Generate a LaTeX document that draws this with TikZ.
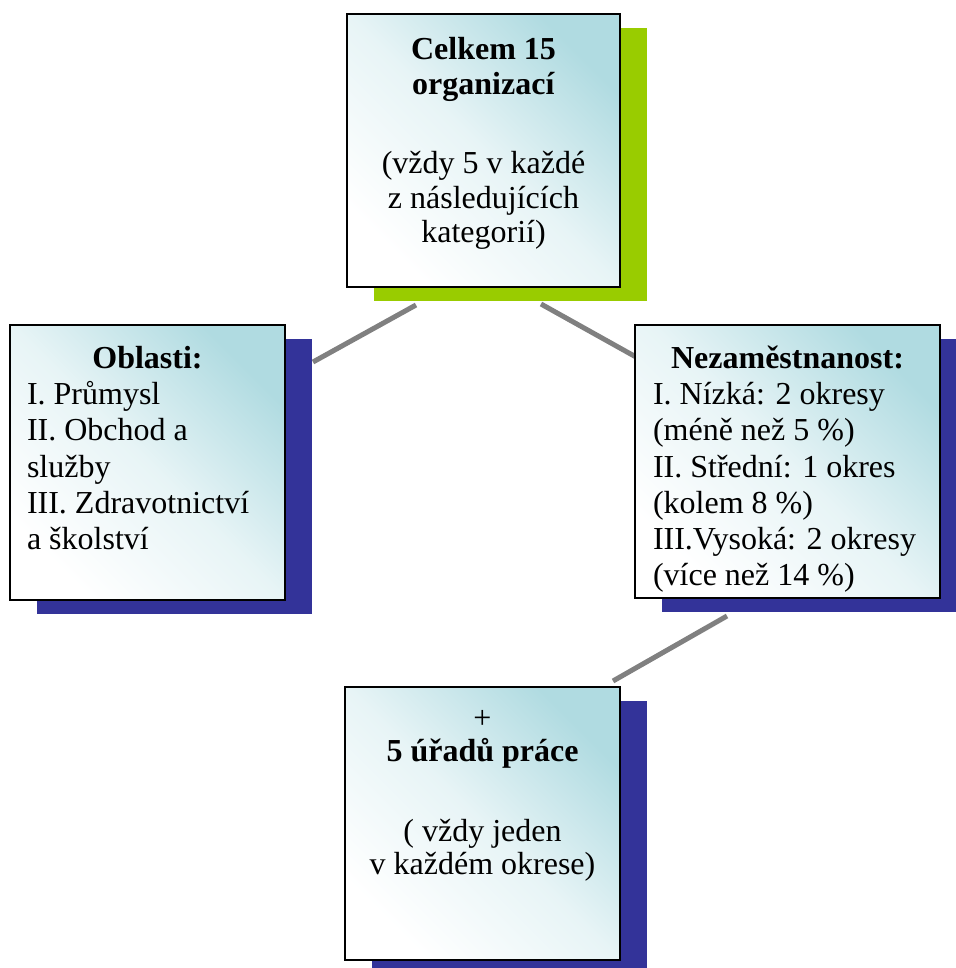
\documentclass[tikz,border=0pt]{standalone}
\usepackage{fontspec}
\setmainfont{Liberation Serif}
\usetikzlibrary{shadows}
\usetikzlibrary{backgrounds}

\definecolor{boxcyan}{RGB}{176,219,225}
\definecolor{shadowgreen}{RGB}{153,204,0}
\definecolor{shadownavy}{RGB}{51,51,153}
\definecolor{linkgray}{RGB}{128,128,128}

\tikzset{
  orgbox/.style={draw=black, line width=1pt, inner sep=0pt,
    top color=boxcyan, bottom color=white, middle color=boxcyan!30!white, shading angle=-45,
    font=\fontsize{16}{16.5}\selectfont},
  greenshadow/.style={drop shadow={shadow xshift=13.5pt, shadow yshift=-7pt, fill=shadowgreen, opacity=1}},
  navyshadow/.style={drop shadow={shadow xshift=13.5pt, shadow yshift=-7pt, fill=shadownavy, opacity=1}},
  link/.style={draw=linkgray, line width=2.5pt}
}

\begin{document}
\begin{tikzpicture}[x=0.5pt, y=-0.5pt]
  \useasboundingbox (0,0) rectangle (956,968);

  \node[orgbox, greenshadow, minimum width=136.5pt, minimum height=136.5pt,
    font=\fontsize{16}{17.3}\selectfont] (celkem) at (483.5,150.5)
    {\parbox[c][133pt][t]{120pt}{\centering\rule{0pt}{21pt}\textbf{Celkem 15}\\\textbf{organizací}\\[22.5pt]
      (vždy 5 v každé\\z následujících\\kategorií)}};
  \node[orgbox, navyshadow, minimum width=137.5pt, minimum height=137.5pt,
    font=\fontsize{16}{18.1}\selectfont] (oblasti) at (147.5,462.5)
    {\parbox[c][134pt][t]{120.5pt}{\raggedright\rule{0pt}{20pt}\hfill\textbf{Oblasti:}\hfill\null\\
      I. Průmysl\\II. Obchod a\\služby\\III. Zdravotnictví\\a školství}};
  \node[orgbox, navyshadow, minimum width=152.5pt, minimum height=136.5pt,
    font=\fontsize{16}{18.1}\selectfont] (nezam) at (787.5,461.5)
    {\parbox[c][133pt][t]{134.5pt}{\raggedright\rule{0pt}{20pt}\hfill\textbf{Nezaměstnanost:}\hfill\null\\
      I. Nízká: 2 okresy\\(méně než 5 \%)\\II. Střední: 1 okres\\(kolem 8 \%)\\III.Vysoká: 2 okresy\\(více než 14 \%)}};
  \node[orgbox, navyshadow, minimum width=137.5pt, minimum height=136.5pt] (urady) at (482.5,823.5)
    {\parbox[c][133pt][t]{120pt}{\centering\rule{0pt}{19pt}+\\\textbf{5 úřadů práce}\\[23.5pt]
      ( vždy jeden\\v každém okrese)}};

  % spojnice za ramecky
  \begin{scope}[on background layer]
    \draw[link] ([xshift=35pt,yshift=-8.5pt]celkem.south west) -- ([xshift=13.5pt,yshift=-19pt]oblasti.north east);
    \draw[link] ([xshift=-40pt,yshift=-8pt]celkem.south east) -- ([xshift=1pt,yshift=-16.5pt]nezam.north west);
    \draw[link] ([xshift=46.5pt,yshift=-8.5pt]nezam.south west) -- ([xshift=-4pt,yshift=2.5pt]urady.north east);
  \end{scope}
\end{tikzpicture}
\end{document}
